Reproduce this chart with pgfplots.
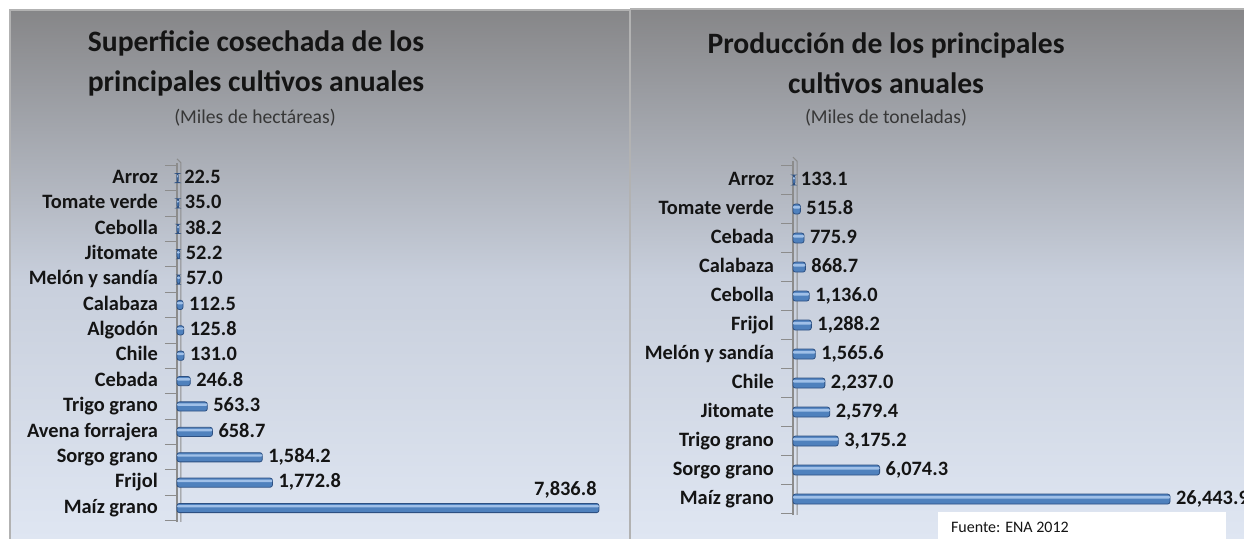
\documentclass[border=0pt]{standalone}
\usepackage{pgfplots}
\pgfplotsset{compat=1.18}
\usepackage{fontspec}
\setmainfont{Carlito}
\definecolor{barlight}{RGB}{160,192,232}
\definecolor{barmid}{RGB}{79,129,189}
\definecolor{bardark}{RGB}{45,80,130}
\definecolor{bgtop}{RGB}{134,134,136}
\definecolor{bgmid}{RGB}{200,207,220}
\definecolor{bgbot}{RGB}{224,231,243}
\definecolor{axgray}{RGB}{140,140,140}
\definecolor{txt}{RGB}{20,20,20}
\newcommand{\lblfont}{\bfseries\fontsize{10.2}{12}\selectfont}
\pgfplotsset{
  cropaxis/.style={
    scale only axis, clip=false,
    xbar, bar shift=0pt,
    axis x line=none, axis y line*=left,
    y axis line style={axgray, line width=0.6pt},
    major tick length=0pt,
    minor tick length=6pt,
    tick align=outside,
    every minor tick/.style={axgray, line width=0.5pt},
    yticklabel style={font=\lblfont, text=txt, xshift=-6pt, text height=1.55ex, text depth=0.45ex},
    nodes near coords style={font=\lblfont, text=txt, xshift=-0.5pt, text height=1.55ex, text depth=0.45ex},
  },
  cylbar/.style={fill=barmid, draw=bardark, line width=0.4pt, rounded corners=1.2pt},
  hilite/.style={fill=barlight, draw=none, bar shift=0.9pt, rounded corners=0.5pt},
  numlbl/.style={nodes near coords={\pgfmathprintnumber[fixed,fixed zerofill,precision=1,1000 sep={,},assume math mode=true]{\pgfplotspointmeta}}},
}
\begin{document}
\begin{tikzpicture}
\useasboundingbox (0,0) rectangle (622pt,-269.5pt);
\fill[white] (0,0) rectangle (622pt,-269.5pt);
% panels
\shade[top color=bgtop, bottom color=bgbot, middle color=bgmid] (5pt,-5pt) rectangle (315pt,-275pt);
\shade[top color=bgtop, bottom color=bgbot, middle color=bgmid] (315pt,-4.5pt) rectangle (630pt,-275pt);
\draw[gray!60, line width=0.6pt] (5pt,-275pt) -- (5pt,-5pt) -- (315pt,-5pt) -- (315pt,-275pt);
\draw[gray!60, line width=0.6pt] (315pt,-4.5pt) -- (630pt,-4.5pt);
% titles
\node[font=\bfseries\fontsize{14.8}{20}\selectfont, align=center, text=txt] at (128pt,-31.5pt) {Superficie cosechada de los\\principales cultivos anuales};
\node[font=\fontsize{9.8}{11}\selectfont, text=txt!85] at (127.5pt,-59pt) {(Miles de hectáreas)};
\node[font=\bfseries\fontsize{14.8}{20}\selectfont, align=center, text=txt] at (443pt,-31.5pt) {Producción de los principales\\cultivos anuales};
\node[font=\fontsize{9.8}{11}\selectfont, text=txt!85] at (443pt,-59pt) {(Miles de toneladas)};

% left chart
\begin{axis}[cropaxis,
  at={(88.5pt,-261pt)}, anchor=south west,
  width=215.4pt, height=179.6pt,
  xmin=0, xmax=8000, ymin=-0.55, ymax=13.6,
  bar width=4.6pt,
  ytick={0,...,13},
  yticklabels={Maíz grano, Frijol, Sorgo grano, Avena forrajera, Trigo grano, Cebada, Chile, Algodón, Calabaza, Melón y sandía, Jitomate, Cebolla, Tomate verde, Arroz},
  minor ytick={-0.5,0.5,...,13.5},
]
\draw[axgray, line width=0.5pt] ([xshift=2pt]rel axis cs:0,0) -- ([xshift=2pt]rel axis cs:0,1) -- ([yshift=2pt]rel axis cs:0,1);
\addplot[cylbar, numlbl] coordinates {
 (1772.8,1) (1584.2,2) (658.7,3) (563.3,4) (246.8,5) (131.0,6) (125.8,7)
 (112.5,8) (57.0,9) (52.2,10) (38.2,11) (35.0,12) (22.5,13)};
\addplot[cylbar] coordinates {(7836.8,0)};
\addplot[hilite, bar width=1.2pt] coordinates {
 (7836.8,0) (1772.8,1) (1584.2,2) (658.7,3) (563.3,4) (246.8,5) (131.0,6) (125.8,7)
 (112.5,8) (57.0,9) (52.2,10) (38.2,11) (35.0,12) (22.5,13)};
\node[anchor=south east, font=\lblfont, text=txt, inner sep=1pt] at (axis cs:7836.8,0.3) {7,836.8};
\end{axis}

% right chart
\begin{axis}[cropaxis,
  at={(396.5pt,-257.5pt)}, anchor=south west,
  width=199.6pt, height=176.9pt,
  xmin=0, xmax=28000, ymin=-0.55, ymax=11.65,
  bar width=5pt,
  ytick={0,...,11},
  yticklabels={Maíz grano, Sorgo grano, Trigo grano, Jitomate, Chile, Melón y sandía, Frijol, Cebolla, Calabaza, Cebada, Tomate verde, Arroz},
  minor ytick={-0.5,0.5,...,11.5},
]
\draw[axgray, line width=0.5pt] ([xshift=2pt]rel axis cs:0,0) -- ([xshift=2pt]rel axis cs:0,1) -- ([yshift=2pt]rel axis cs:0,1);
\addplot[cylbar, numlbl] coordinates {
 (26443.9,0) (6074.3,1) (3175.2,2) (2579.4,3) (2237.0,4) (1565.6,5) (1288.2,6)
 (1136.0,7) (868.7,8) (775.9,9) (515.8,10) (133.1,11)};
\addplot[hilite, bar width=1.3pt] coordinates {
 (26443.9,0) (6074.3,1) (3175.2,2) (2579.4,3) (2237.0,4) (1565.6,5) (1288.2,6)
 (1136.0,7) (868.7,8) (775.9,9) (515.8,10) (133.1,11)};
\end{axis}

% source box
\fill[white] (469pt,-256pt) rectangle (613pt,-275pt);
\node[anchor=west, font=\fontsize{8}{9}\selectfont, text=txt] at (472pt,-263.5pt) {Fuente: ENA 2012};
\end{tikzpicture}
\end{document}
